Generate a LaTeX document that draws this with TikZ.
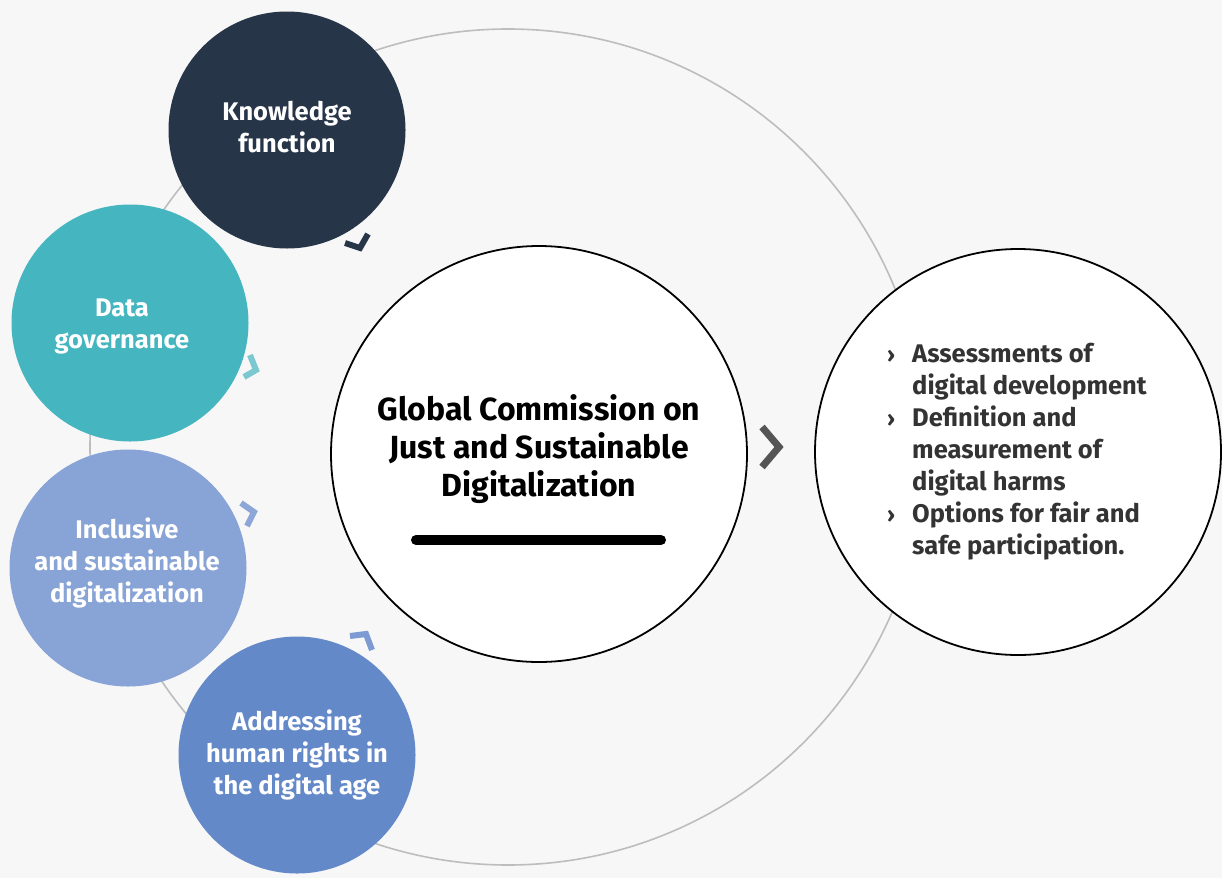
\documentclass[tikz,border=0pt]{standalone}
\usepackage{fontspec}
\setmainfont{Fira Sans}
\definecolor{bg}{HTML}{F7F7F7}
\definecolor{ring}{HTML}{BDBDBD}
\definecolor{knowc}{HTML}{263548}
\definecolor{datac}{HTML}{45B5BF}
\definecolor{datach}{HTML}{7CC8D0}
\definecolor{inclc}{HTML}{88A3D5}
\definecolor{inclch}{HTML}{8DA6D8}
\definecolor{addrc}{HTML}{6489C8}
\definecolor{addrch}{HTML}{7D9BD3}
\definecolor{chevg}{HTML}{555555}
\definecolor{listc}{HTML}{333333}
\tikzset{
  topic/.style={circle, inner sep=0pt, minimum size=237pt},
  topictext/.style={text=white, align=center, inner sep=0pt,
    font=\fontsize{25.5}{32}\selectfont\bfseries},
  bigcirc/.style={circle, inner sep=0pt, fill=white, draw=black, line width=1.8pt},
  chev/.style={line width=6pt, line cap=butt, line join=miter},
}
\newcommand{\bul}{\makebox[25pt][l]{\fontsize{22}{32}\selectfont ›}}
\newcommand{\ind}{\hspace*{25pt}}
\begin{document}
\begin{tikzpicture}[x=1pt,y=-1pt]
\fill[bg] (0,0) rectangle (1222,878);
\useasboundingbox (0,0) rectangle (1222,878);
% ring
\coordinate (ringc) at (508,447);
\draw[ring, line width=1.6pt] (ringc) circle [radius=418pt];
% topic circles
\node[topic, fill=knowc] (know) at (287,130) {};
\node[topic, fill=datac] (data) at (130,323) {};
\node[topic, fill=inclc] (incl) at (128,568) {};
\node[topic, fill=addrc] (addr) at (297,755) {};
\node[topictext] (knowt) at (287,127) {Knowledge\\function};
\node[topictext] (datat) at (122,326) {Data\\governance};
\node[topictext] (inclt) at (127,563) {Inclusive\\and sustainable\\digitalization};
\node[topictext] (addrt) at (297,755) {Addressing\\human rights in\\the digital age};
% central circle
\node[bigcirc, minimum size=416pt] (gc) at (539,454) {};
\node[align=center, inner sep=0pt, font=\fontsize{32}{38}\selectfont\bfseries] (gctext) at (539,449)
  {Global Commission on\\Just and Sustainable\\Digitalization};
\coordinate (barl) at (416,540);
\coordinate (barr) at (661,540);
\draw[line width=10pt, line cap=round] (barl) -- (barr);
% right circle
\node[bigcirc, minimum size=406pt] (out) at (1018,452) {};
\node[anchor=west, align=left, inner sep=0pt, text=listc, font=\fontsize{25.5}{32}\selectfont\bfseries] (list) at (887,452)
  {\bul Assessments of\\
   \ind digital development\\
   \bul Definition and\\
   \ind measurement of\\
   \ind digital harms\\
   \bul Options for fair and\\
   \ind safe participation.};
% chevrons
\draw[chev, knowc] (345,243) -- (360,248) -- (368,234);
\draw[chev, datach] (244,377) -- (256,370) -- (250,355);
\draw[chev, inclch] (241,503) -- (254,512) -- (247,526);
\draw[chev, addrch] (350,636) -- (366,634) -- (372,650);
\draw[line width=7pt, chevg, line join=miter] (762,427) -- (779,447) -- (762,467);
\end{tikzpicture}
\end{document}
